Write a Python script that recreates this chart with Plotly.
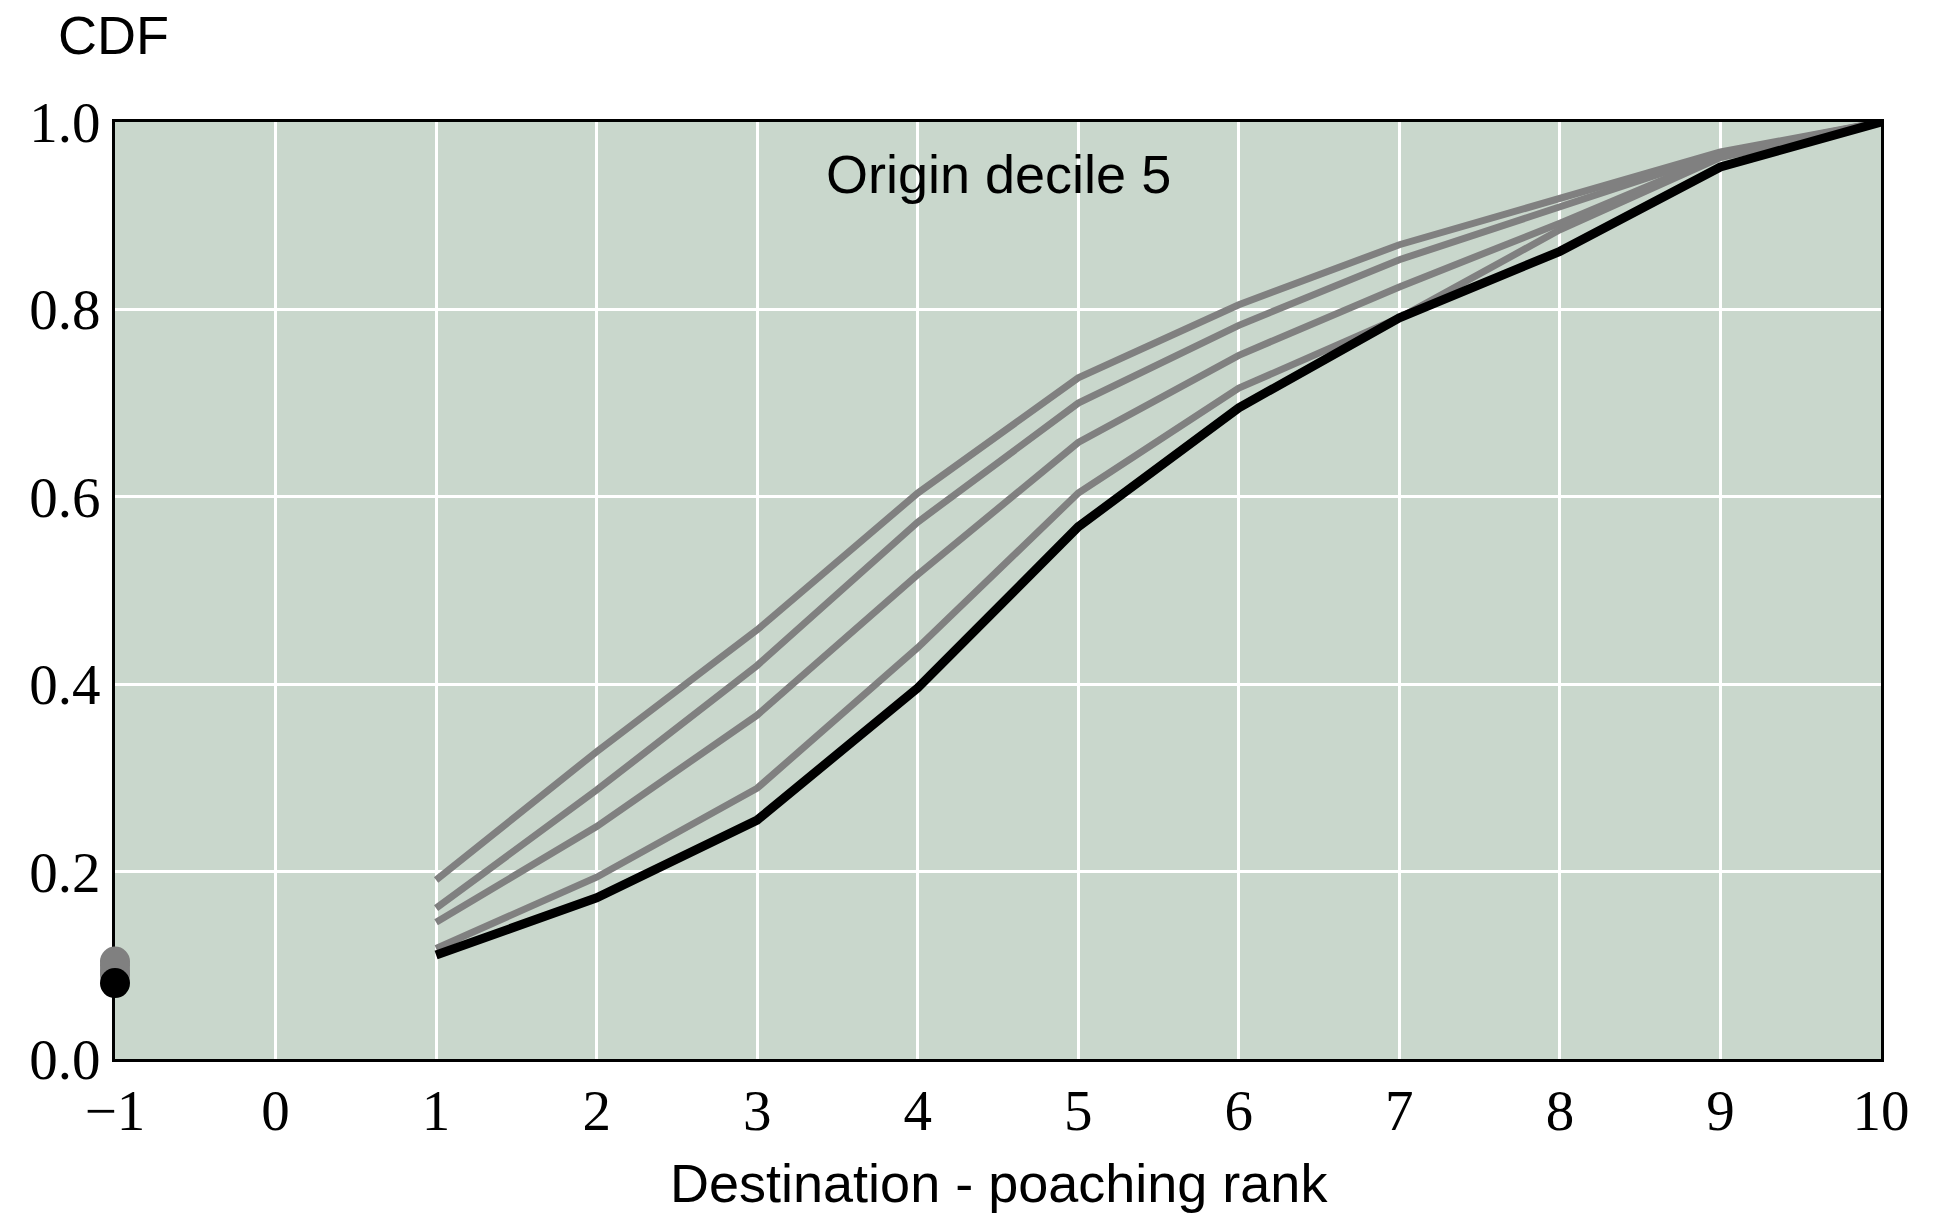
import plotly.graph_objects as go

# Data
ranks = [1, 2, 3, 4, 5, 6, 7, 8, 9, 10]
cdf_black = [0.111, 0.172, 0.255, 0.396, 0.568, 0.695, 0.791, 0.862, 0.952, 1.0]
cdf_gray_a = [0.118, 0.194, 0.289, 0.439, 0.604, 0.716, 0.791, 0.885, 0.962, 1.0]
cdf_gray_b = [0.146, 0.248, 0.367, 0.517, 0.658, 0.751, 0.824, 0.892, 0.964, 1.0]
cdf_gray_c = [0.161, 0.287, 0.420, 0.573, 0.700, 0.783, 0.853, 0.910, 0.966, 1.0]
cdf_gray_d = [0.191, 0.328, 0.458, 0.604, 0.727, 0.805, 0.869, 0.918, 0.968, 1.0]
dot_x = -1
dot_gray = [0.090, 0.094, 0.100, 0.104]
dot_black = 0.081

x_ticks = [-1, 0, 1, 2, 3, 4, 5, 6, 7, 8, 9, 10]
x_ticklabels = ["\u22121", "0", "1", "2", "3", "4", "5", "6", "7", "8", "9", "10"]
y_ticks = [0.0, 0.2, 0.4, 0.6, 0.8, 1.0]
y_ticklabels = ["0.0", "0.2", "0.4", "0.6", "0.8", "1.0"]

GRAY = "#808080"
BLACK = "#000000"

fig = go.Figure()

for ys in [cdf_gray_a, cdf_gray_b, cdf_gray_c, cdf_gray_d]:
    fig.add_trace(go.Scatter(x=ranks, y=ys, mode="lines",
                             line=dict(color=GRAY, width=7),
                             cliponaxis=False, showlegend=False))
fig.add_trace(go.Scatter(x=ranks, y=cdf_black, mode="lines",
                         line=dict(color=BLACK, width=9),
                         cliponaxis=False, showlegend=False))

fig.add_trace(go.Scatter(x=[dot_x] * len(dot_gray), y=dot_gray, mode="markers",
                         marker=dict(color=GRAY, size=30, line=dict(width=0)),
                         cliponaxis=False, showlegend=False))
fig.add_trace(go.Scatter(x=[dot_x], y=[dot_black], mode="markers",
                         marker=dict(color=BLACK, size=30, line=dict(width=0)),
                         cliponaxis=False, showlegend=False))

tick_font = dict(family="Liberation Serif", size=57, color="black")
sans = "Liberation Sans"

fig.update_layout(
    width=1934, height=1215,
    margin=dict(l=107, r=61, t=114, b=164),
    paper_bgcolor="white",
    plot_bgcolor="#C9D7CC",
    showlegend=False,
)
fig.update_xaxes(
    range=[-1, 10], tickvals=x_ticks, ticktext=x_ticklabels,
    tickfont=tick_font, ticks="", ticklen=0,
    showgrid=True, gridcolor="white", gridwidth=2.5,
    zeroline=False, showline=True, linecolor="black", linewidth=3,
    mirror=True, layer="below traces",
)
fig.update_yaxes(
    range=[0, 1], tickvals=y_ticks, ticktext=y_ticklabels,
    tickfont=tick_font, ticks="", ticklen=0,
    showgrid=True, gridcolor="white", gridwidth=2.5,
    zeroline=False, showline=True, linecolor="black", linewidth=3,
    mirror=True, layer="below traces",
)

fig.add_annotation(text="CDF", xref="paper", yref="paper", x=-0.001, y=1.0925,
                   xanchor="center", yanchor="middle", showarrow=False,
                   font=dict(family=sans, size=54, color="black"))
fig.add_annotation(text="Destination - poaching rank", xref="paper", yref="paper",
                   x=0.5006, y=-0.132, xanchor="center", yanchor="middle",
                   showarrow=False, font=dict(family=sans, size=54, color="black"))
fig.add_annotation(text="Origin decile 5", xref="x", yref="y", x=4.5, y=0.944,
                   xanchor="center", yanchor="middle", showarrow=False,
                   font=dict(family=sans, size=54, color="black"))

fig.write_html("out.html")
